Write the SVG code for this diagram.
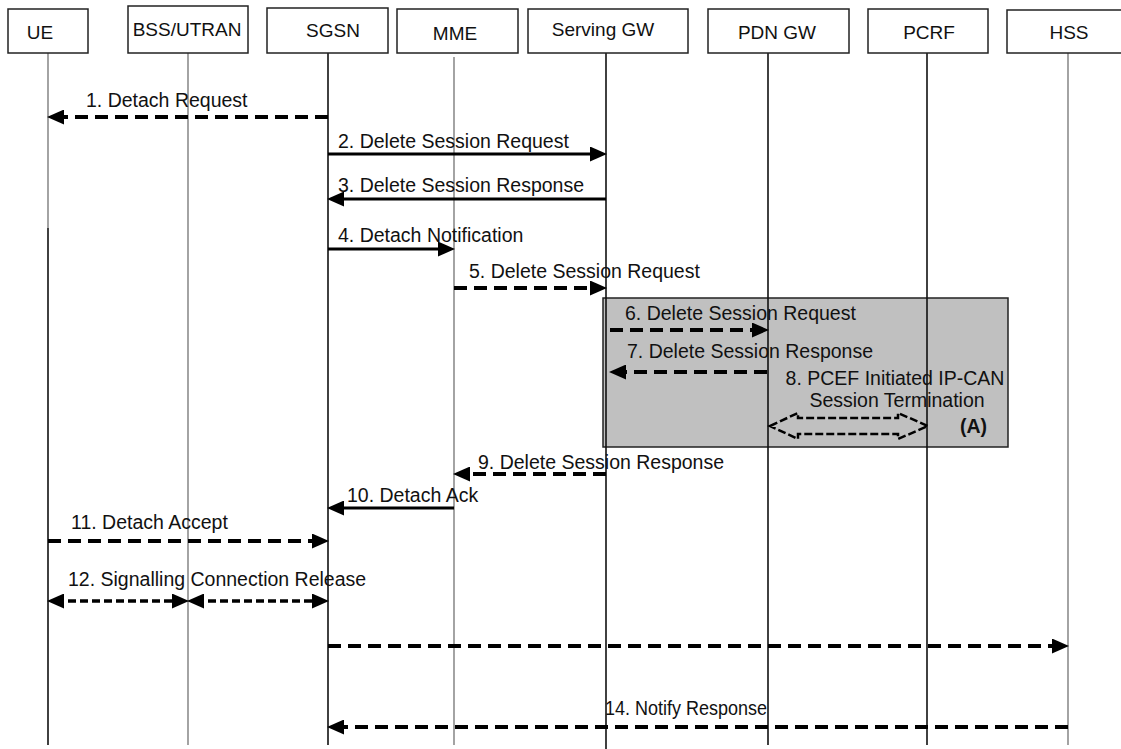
<svg xmlns="http://www.w3.org/2000/svg" width="1121" height="749" viewBox="0 0 1121 749">
<defs>
<style>
.box{fill:#fff;stroke:#222;stroke-width:1.5}
.hd{font-family:"Liberation Sans",Arial,sans-serif;font-size:19px;fill:#111;text-anchor:middle}
.lb{font-family:"Liberation Sans",Arial,sans-serif;font-size:19.5px;fill:#111}
.ll{stroke:#111;stroke-width:1.6}
.lg{stroke:#9a9a9a;stroke-width:1.8}
.sol{stroke:#000;stroke-width:3;fill:none}
.dsh{stroke:#000;stroke-width:4;stroke-dasharray:13 7;fill:none}
.dsh2{stroke:#000;stroke-width:3.5;stroke-dasharray:8 4;fill:none}
</style>
<marker id="ah" markerUnits="userSpaceOnUse" markerWidth="17" markerHeight="15" refX="8" refY="7.5" orient="auto-start-reverse">
<path d="M0,0 L17,7.5 L0,15 z" fill="#000"/>
</marker>
</defs>
<rect x="0" y="0" width="1121" height="749" fill="#fff"/>

<g id="shade">
<rect x="603" y="298" width="405" height="149" fill="#c0c0c0" stroke="#222" stroke-width="1.5"/>
</g>

<g id="lifelines">
<line class="lg" x1="48" y1="53" x2="48" y2="228"/>
<line class="ll" x1="48" y1="228" x2="48" y2="745"/>
<line class="lg" x1="188" y1="53" x2="188" y2="745"/>
<line class="ll" x1="328" y1="53" x2="328" y2="745"/>
<line class="lg" x1="454" y1="57" x2="454" y2="745"/>
<line class="ll" x1="606" y1="50" x2="606" y2="749"/>
<line class="ll" x1="768" y1="53" x2="768" y2="745"/>
<line class="ll" x1="927" y1="53" x2="927" y2="745"/>
<line class="lg" x1="1068" y1="53" x2="1068" y2="745"/>
</g>

<g id="UE"><rect class="box" x="8" y="9" width="80" height="44"/><text class="hd" x="40" y="39">UE</text></g>
<g id="BSS_UTRAN"><rect class="box" x="128" y="6" width="120" height="47"/><text class="hd" x="187" y="36">BSS/UTRAN</text></g>
<g id="SGSN"><rect class="box" x="267" y="8" width="121" height="45"/><text class="hd" x="333" y="37">SGSN</text></g>
<g id="MME"><rect class="box" x="397" y="9" width="121" height="44"/><text class="hd" x="455" y="40">MME</text></g>
<g id="ServingGW"><rect class="box" x="528" y="9" width="160" height="44"/><text class="hd" x="603" y="36">Serving GW</text></g>
<g id="PDNGW"><rect class="box" x="708" y="9" width="141" height="44"/><text class="hd" x="777" y="39">PDN GW</text></g>
<g id="PCRF"><rect class="box" x="868" y="9" width="120" height="44"/><text class="hd" x="929" y="39">PCRF</text></g>
<g id="HSS"><rect class="box" x="1007" y="10" width="116" height="43"/><text class="hd" x="1069" y="39">HSS</text></g>

<g id="connectors">
<line class="dsh" x1="328" y1="117" x2="56" y2="117" marker-end="url(#ah)"/>
<line class="sol" x1="328" y1="154" x2="598" y2="154" marker-end="url(#ah)"/>
<line class="sol" x1="606" y1="199" x2="336" y2="199" marker-end="url(#ah)"/>
<line class="sol" x1="328" y1="249" x2="446" y2="249" marker-end="url(#ah)"/>
<line class="dsh" x1="454" y1="288" x2="598" y2="288" marker-end="url(#ah)"/>
<line class="dsh" x1="610" y1="330" x2="760" y2="330" marker-end="url(#ah)"/>
<line class="dsh" x1="767" y1="372" x2="618" y2="372" marker-end="url(#ah)"/>
<path d="M770,426 L798,413 L798,418 L898,418 L898,413 L928,426 L898,439 L898,434 L798,434 L798,439 Z" fill="none" stroke="#000" stroke-width="2.5" stroke-dasharray="8 3"/>
<line class="dsh" x1="606" y1="474" x2="462" y2="474" marker-end="url(#ah)"/>
<line class="sol" x1="454" y1="508" x2="336" y2="508" marker-end="url(#ah)"/>
<line class="dsh" x1="48" y1="541" x2="320" y2="541" marker-end="url(#ah)"/>
<line class="dsh2" x1="56" y1="601" x2="180" y2="601" marker-start="url(#ah)" marker-end="url(#ah)"/>
<line class="dsh2" x1="196" y1="601" x2="320" y2="601" marker-start="url(#ah)" marker-end="url(#ah)"/>
<line class="dsh" x1="328" y1="646" x2="1060" y2="646" marker-end="url(#ah)"/>
<line class="dsh" x1="1068" y1="727" x2="336" y2="727" marker-end="url(#ah)"/>
</g>

<g id="labels">
<text class="lb" x="86" y="107">1. Detach Request</text>
<text class="lb" x="338" y="148">2. Delete Session Request</text>
<text class="lb" x="338" y="192">3. Delete Session Response</text>
<text class="lb" x="338" y="242">4. Detach Notification</text>
<text class="lb" x="469" y="278">5. Delete Session Request</text>
<text class="lb" x="625" y="320">6. Delete Session Request</text>
<text class="lb" x="627" y="358">7. Delete Session Response</text>
<text class="lb" x="895" y="385" text-anchor="middle">8. PCEF Initiated IP-CAN</text>
<text class="lb" x="897" y="407" text-anchor="middle">Session Termination</text>
<text class="lb" x="960" y="433" font-weight="bold">(A)</text>
<text class="lb" x="478" y="469">9. Delete Session Response</text>
<text class="lb" x="347" y="502">10. Detach Ack</text>
<text class="lb" x="71" y="529">11. Detach Accept</text>
<text class="lb" x="68" y="586">12. Signalling Connection Release</text>
<text class="lb" x="605" y="715" font-size="18" textLength="162" lengthAdjust="spacingAndGlyphs">14. Notify Response</text>
</g>
</svg>
